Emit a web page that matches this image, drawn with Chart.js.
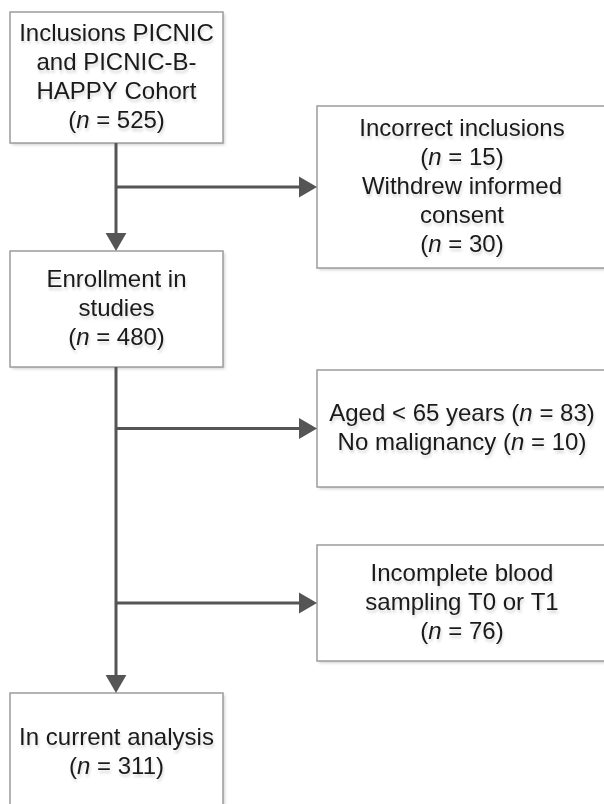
<!DOCTYPE html>
<html>
<head>
<meta charset="utf-8">
<script src="https://cdn.jsdelivr.net/npm/chart.js@4.4.0/dist/chart.umd.min.js"></script>
<style>
  html, body { margin: 0; padding: 0; background: #fff; }
  canvas { display: block; }
</style>
</head>
<body>
<canvas id="flow" width="604" height="804"></canvas>
<script>
// stages down the main column
const stageLabels = [
  ['Inclusions PICNIC', 'and PICNIC-B-', 'HAPPY Cohort'],
  ['Enrollment in', 'studies'],
  ['In current analysis']
];
const stageCounts = [525, 480, 311];

// exclusions, one box per step
const exclusionLabels = [
  [['Incorrect inclusions'], ['Withdrew informed', 'consent']],
  [['Aged < 65 years'], ['No malignancy']],
  [['Incomplete blood', 'sampling T0 or T1']]
];
const exclusionCounts = [[15, 30], [83, 10], [76]];
const countOnSameLine = [false, true, false];

// layout (canvas units)
const mainBoxes = [
  { x: 10, y: 12, w: 213, h: 131 },
  { x: 10, y: 251, w: 213, h: 116 },
  { x: 10, y: 693, w: 213, h: 120 }
];
const sideBoxes = [
  { x: 317, y: 106, w: 290, h: 162 },
  { x: 317, y: 370, w: 290, h: 117 },
  { x: 317, y: 545, w: 290, h: 116 }
];
const spineX = 116;
const headR = 12;
const FONT = '"Liberation Sans", Arial, sans-serif';
const LINE_H = 29;

function countSegs(v, prefix) {
  return [
    { t: (prefix || '') + '(', i: false },
    { t: 'n', i: true },
    { t: ' = ' + v + ')', i: false }
  ];
}

// text lines for each box
const mainText = stageLabels.map((lines, k) =>
  lines.map(l => [{ t: l, i: false }]).concat([countSegs(stageCounts[k])])
);
const sideText = exclusionLabels.map((groups, k) => {
  let out = [];
  groups.forEach((lines, g) => {
    if (countOnSameLine[k]) {
      const last = lines[lines.length - 1];
      lines.slice(0, -1).forEach(l => out.push([{ t: l, i: false }]));
      out.push(countSegs(exclusionCounts[k][g], last + ' '));
    } else {
      lines.forEach(l => out.push([{ t: l, i: false }]));
      out.push(countSegs(exclusionCounts[k][g]));
    }
  });
  return out;
});

const boxList = mainBoxes.map((b, k) => ({ b: b, text: mainText[k] }))
  .concat(sideBoxes.map((b, k) => ({ b: b, text: sideText[k] })));

// connectors
const bottom = b => b.y + b.h;
const midY = b => b.y + b.h / 2;
const segs = [
  [{ x: spineX, y: bottom(mainBoxes[0]) }, { x: spineX, y: mainBoxes[1].y - headR }],
  [{ x: spineX, y: bottom(mainBoxes[1]) }, { x: spineX, y: mainBoxes[2].y - headR }]
].concat(sideBoxes.map(b => [{ x: spineX, y: midY(b) }, { x: b.x - headR, y: midY(b) }]));

const heads = [
  { x: spineX, y: mainBoxes[1].y - headR },
  { x: spineX, y: mainBoxes[2].y - headR }
].concat(sideBoxes.map(b => ({ x: b.x - headR, y: midY(b) })));
const headRot = [180, 180, 90, 90, 90];

const lineSets = segs.map(s => ({
  data: s,
  showLine: true,
  borderColor: '#555555',
  borderWidth: 3,
  borderCapStyle: 'butt',
  pointRadius: 0
}));

const boxPlugin = {
  id: 'boxes',
  beforeDatasetsDraw(chart) {
    const ctx = chart.ctx;
    const xs = chart.scales.x, ys = chart.scales.y;
    boxList.forEach(item => {
      const x0 = xs.getPixelForValue(item.b.x), x1 = xs.getPixelForValue(item.b.x + item.b.w);
      const y0 = ys.getPixelForValue(item.b.y), y1 = ys.getPixelForValue(item.b.y + item.b.h);
      ctx.save();
      ctx.shadowColor = 'rgba(0,0,0,0.18)';
      ctx.shadowOffsetX = 2;
      ctx.shadowOffsetY = 2;
      ctx.shadowBlur = 3;
      ctx.fillStyle = '#ffffff';
      ctx.fillRect(x0, y0, x1 - x0, y1 - y0);
      ctx.restore();
      ctx.save();
      ctx.strokeStyle = '#9c9c9c';
      ctx.lineWidth = 1.5;
      ctx.strokeRect(x0, y0, x1 - x0, y1 - y0);
      ctx.restore();

      const cx = (x0 + x1) / 2, cy = (y0 + y1) / 2;
      const n = item.text.length;
      ctx.save();
      ctx.fillStyle = '#1a1a1a';
      ctx.textBaseline = 'middle';
      ctx.textAlign = 'left';
      ctx.shadowColor = 'rgba(0,0,0,0.16)';
      ctx.shadowOffsetX = 1;
      ctx.shadowOffsetY = 3;
      ctx.shadowBlur = 3;
      item.text.forEach((line, j) => {
        const y = cy + (j - (n - 1) / 2) * LINE_H;
        let total = 0;
        line.forEach(s => {
          ctx.font = (s.i ? 'italic ' : '') + '24px ' + FONT;
          s.w = ctx.measureText(s.t).width;
          total += s.w;
        });
        let x = cx - total / 2;
        line.forEach(s => {
          ctx.font = (s.i ? 'italic ' : '') + '24px ' + FONT;
          ctx.fillText(s.t, x, y);
          x += s.w;
        });
      });
      ctx.restore();
    });
  }
};

new Chart(document.getElementById('flow'), {
  type: 'scatter',
  data: {
    datasets: lineSets.concat([{
      data: heads,
      showLine: false,
      pointStyle: 'triangle',
      pointRadius: headR,
      pointRotation: headRot,
      backgroundColor: '#555555',
      pointBackgroundColor: '#555555',
      pointBorderWidth: 0,
      borderWidth: 0
    }])
  },
  options: {
    responsive: false,
    animation: false,
    devicePixelRatio: 1,
    events: [],
    layout: { padding: 0, autoPadding: false },
    plugins: { legend: { display: false }, tooltip: { enabled: false } },
    scales: {
      x: { type: 'linear', min: 0, max: 604, display: false },
      y: { type: 'linear', min: 0, max: 804, reverse: true, display: false }
    }
  },
  plugins: [boxPlugin]
});
</script>
</body>
</html>
